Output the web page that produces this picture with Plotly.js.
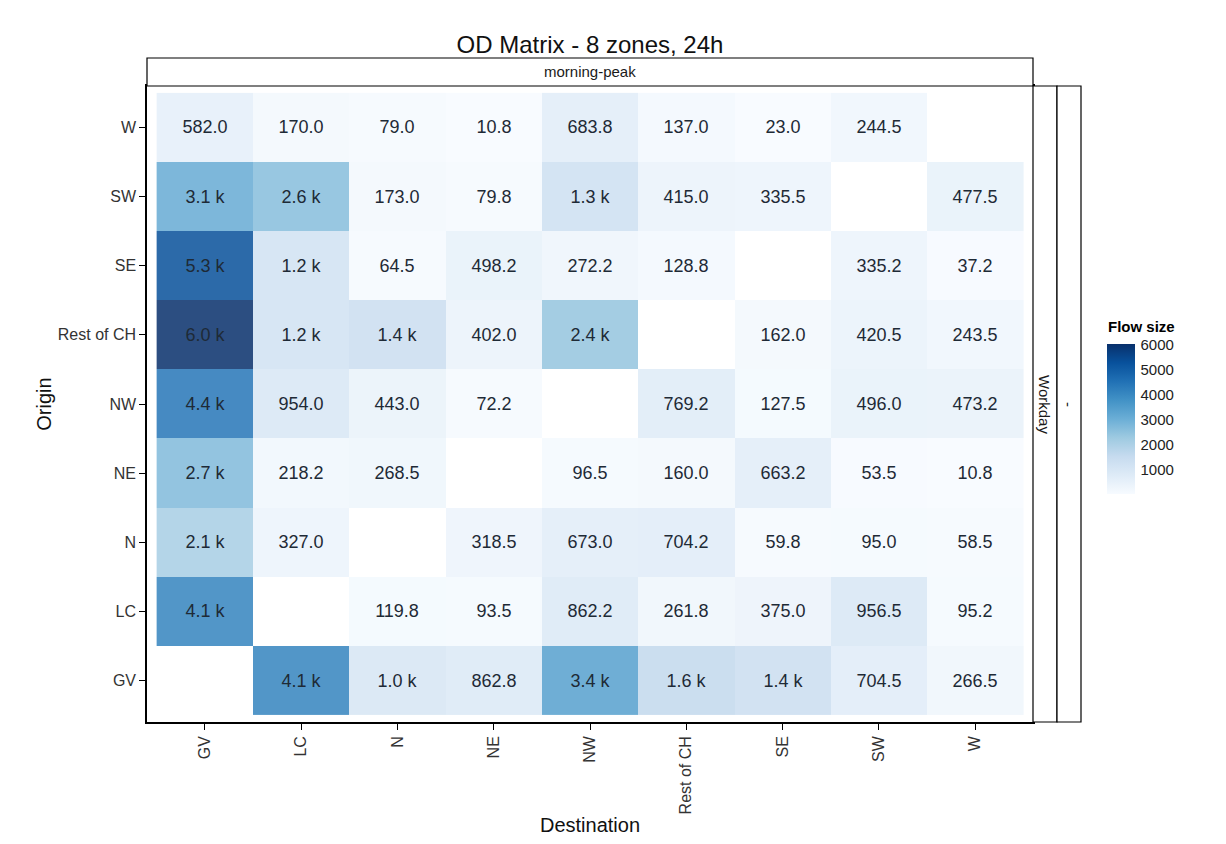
<!DOCTYPE html>
<html>
<head>
<meta charset="utf-8">
<script src="https://cdn.plot.ly/plotly-3.0.1.min.js"></script>
<style>html,body{margin:0;padding:0;background:#fff;}#chart{width:1226px;height:844px;}</style>
</head>
<body>
<div id="chart"></div>
<script>
// Destination categories (x) and origin categories (y, bottom to top)
const destinations = ['GV','LC','N','NE','NW','Rest of CH','SE','SW','W'];
const origins = ['GV','LC','N','NE','NW','Rest of CH','SE','SW','W'];

// Flow values per origin row, in destination order (null = diagonal / no flow)
const fromGV     = [null, 4100, 1000, 862.8, 3400, 1600, 1400, 704.5, 266.5];
const fromLC     = [4100, null, 119.8, 93.5, 862.2, 261.8, 375.0, 956.5, 95.2];
const fromN      = [2100, 327.0, null, 318.5, 673.0, 704.2, 59.8, 95.0, 58.5];
const fromNE     = [2700, 218.2, 268.5, null, 96.5, 160.0, 663.2, 53.5, 10.8];
const fromNW     = [4400, 954.0, 443.0, 72.2, null, 769.2, 127.5, 496.0, 473.2];
const fromRestCH = [6030, 1200, 1400, 402.0, 2400, null, 162.0, 420.5, 243.5];
const fromSE     = [5300, 1200, 64.5, 498.2, 272.2, 128.8, null, 335.2, 37.2];
const fromSW     = [3100, 2600, 173.0, 79.8, 1300, 415.0, 335.5, null, 477.5];
const fromW      = [582.0, 170.0, 79.0, 10.8, 683.8, 137.0, 23.0, 244.5, null];

const colorbarTicks = [1000, 2000, 3000, 4000, 5000, 6000];

const z = [fromGV, fromLC, fromN, fromNE, fromNW, fromRestCH, fromSE, fromSW, fromW];
function fmt(v) {
  if (v === null || v === undefined) return '';
  return v >= 1000 ? (v / 1000).toFixed(1) + ' k' : v.toFixed(1);
}
const text = z.map(r => r.map(fmt));

const blues = [
  [0.0, '#f7fbff'], [0.125, '#deebf7'], [0.25, '#c6dbef'], [0.375, '#9ecae1'],
  [0.5, '#6baed6'], [0.625, '#4292c6'], [0.75, '#2171b5'], [0.875, '#08519c'], [1.0, '#08306b']
];

const FONT = 'Liberation Sans, Arial, Helvetica, sans-serif';
const L = 147, R = 1033, T = 86, B = 722;
const PW = R - L, PH = B - T;

const trace = {
  type: 'heatmap',
  x: destinations,
  y: origins,
  z: z,
  text: text,
  texttemplate: '%{text}',
  textfont: {family: FONT, size: 18, color: '#1e2a36'},
  colorscale: blues,
  opacity: 0.85,
  hoverongaps: false,
  xgap: 0, ygap: 0,
  colorbar: {
    x: (1107 - L) / PW, xanchor: 'left', xpad: 0,
    y: (B - 419) / PH, yanchor: 'middle', ypad: 0,
    lenmode: 'pixels', len: 150,
    thickness: 28,
    outlinewidth: 0,
    ticks: 'outside', ticklen: 3, tickcolor: '#ffffff', tickwidth: 1,
    tickvals: colorbarTicks,
    tickfont: {family: FONT, size: 15, color: '#222'}
  }
};

const stripH = 28 / PH, stripW = 24 / PW;
const layout = {
  width: 1226, height: 844,
  margin: {l: L, r: 1226 - R, t: T, b: 844 - B},
  paper_bgcolor: '#ffffff', plot_bgcolor: '#ffffff',
  font: {family: FONT, color: '#222'},
  title: {text: 'OD Matrix - 8 zones, 24h', font: {family: FONT, size: 24, color: '#111'},
          x: 0.5, xref: 'paper', xanchor: 'center', y: 1 - 45 / 844, yanchor: 'middle'},
  xaxis: {
    type: 'category', range: [-0.6, 8.6], showgrid: false, zeroline: false,
    showline: true, mirror: true, linecolor: '#000', linewidth: 1.5,
    ticks: 'outside', ticklen: 6, tickcolor: '#000', tickwidth: 1.2,
    tickangle: -90, tickfont: {family: FONT, size: 16, color: '#333'},
    title: {text: 'Destination', font: {family: FONT, size: 20, color: '#111'}, standoff: 5}
  },
  yaxis: {
    type: 'category', range: [-0.6, 8.6], showgrid: false, zeroline: false,
    showline: true, mirror: true, linecolor: '#000', linewidth: 1.5,
    ticks: 'outside', ticklen: 6, tickcolor: '#000', tickwidth: 1.2,
    tickfont: {family: FONT, size: 16, color: '#333'},
    title: {text: 'Origin', font: {family: FONT, size: 20, color: '#111'}, standoff: 1}
  },
  shapes: [
    {type: 'rect', xref: 'paper', yref: 'paper', x0: 0, x1: 1, y0: 1, y1: 1 + stripH,
     fillcolor: '#ffffff', line: {color: '#000', width: 1.2}},
    {type: 'rect', xref: 'paper', yref: 'paper', x0: 1, x1: 1 + stripW, y0: 0, y1: 1,
     fillcolor: '#ffffff', line: {color: '#000', width: 1.2}},
    {type: 'rect', xref: 'paper', yref: 'paper', x0: 1 + stripW, x1: 1 + 2 * stripW, y0: 0, y1: 1,
     fillcolor: '#ffffff', line: {color: '#000', width: 1.2}}
  ],
  annotations: [
    {text: 'morning-peak', xref: 'paper', yref: 'paper', x: 0.5, y: 1 + stripH / 2,
     xanchor: 'center', yanchor: 'middle', showarrow: false, font: {family: FONT, size: 15, color: '#1a1a1a'}},
    {text: 'Workday', xref: 'paper', yref: 'paper', x: 1 + stripW / 2, y: 0.5, textangle: 90,
     xanchor: 'center', yanchor: 'middle', showarrow: false, font: {family: FONT, size: 15, color: '#1a1a1a'}},
    {text: '-', xref: 'paper', yref: 'paper', x: 1 + 1.5 * stripW, y: 0.5, textangle: 90,
     xanchor: 'center', yanchor: 'middle', showarrow: false, font: {family: FONT, size: 15, color: '#1a1a1a'}},
    {text: '<b>Flow size</b>', xref: 'paper', yref: 'paper', x: (1106 - L) / PW, y: (B - 326) / PH,
     xanchor: 'left', yanchor: 'middle', showarrow: false, font: {family: FONT, size: 15, color: '#000'}}
  ]
};

Plotly.newPlot('chart', [trace], layout, {displayModeBar: false, responsive: false});
</script>
</body>
</html>
